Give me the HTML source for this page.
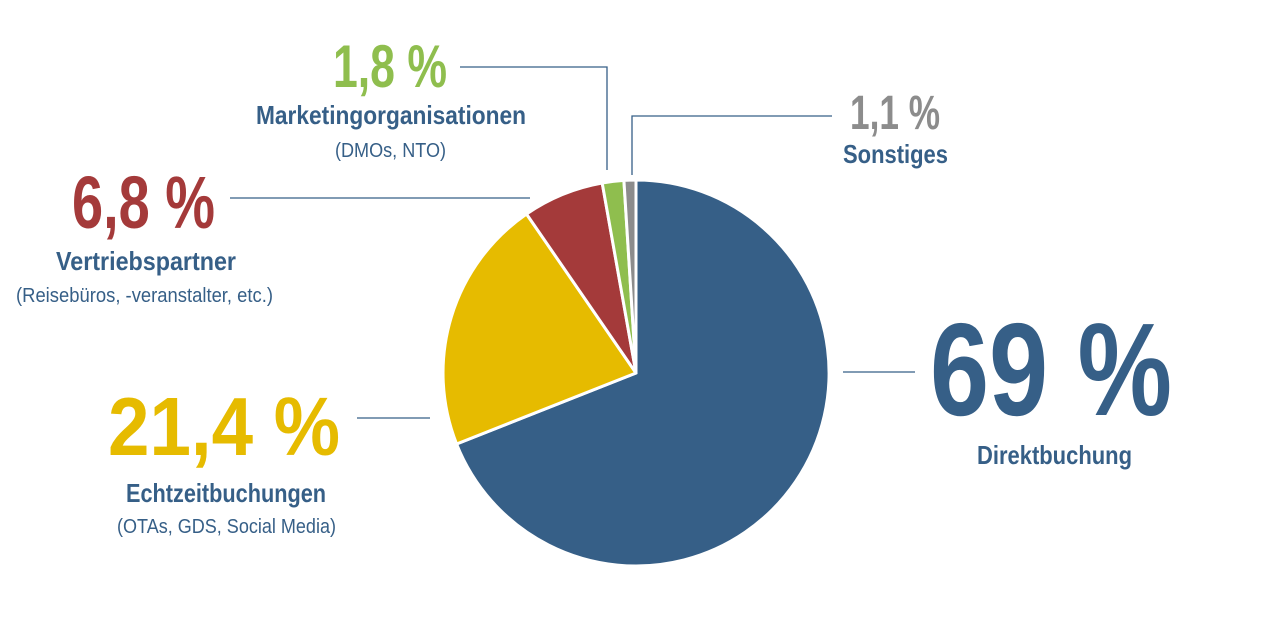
<!DOCTYPE html>
<html><head><meta charset="utf-8"><style>html,body{margin:0;padding:0;background:#fff;}svg{display:block}</style></head>
<body>
<svg width="1280" height="625" viewBox="0 0 1280 625" xmlns="http://www.w3.org/2000/svg" font-family="Liberation Sans, Arial, sans-serif">
<g stroke="#fff" stroke-width="3" stroke-linejoin="round">
<path d="M636,373 L636,180 A193,193 0 1 1 456.6,444 Z" fill="#365f87"/>
<path d="M636,373 L456.6,444 A193,193 0 0 1 526.5,214 Z" fill="#e6bb00"/>
<path d="M636,373 L526.5,214 A193,193 0 0 1 602.2,183 Z" fill="#a43a3a"/>
<path d="M636,373 L602.2,183 A193,193 0 0 1 623.9,180.4 Z" fill="#8fbe4e"/>
<path d="M636,373 L623.9,180.4 A193,193 0 0 1 636,180 Z" fill="#8c8c8c"/>
</g>
<g stroke="#365f87" stroke-width="1.3" fill="none">
<line x1="843" y1="372" x2="915" y2="372"/>
<line x1="357" y1="418" x2="430" y2="418"/>
<line x1="230" y1="198" x2="530" y2="198"/>
<polyline points="460,67 607,67 607,170"/>
<polyline points="832,116 632,116 632,175"/>
</g>
<g font-weight="bold" lengthAdjust="spacingAndGlyphs">
<text x="930" y="415" font-size="132" fill="#365f87" textLength="242" lengthAdjust="spacingAndGlyphs">69 %</text>
<text x="108" y="455" font-size="83" fill="#e6bb00" textLength="232" lengthAdjust="spacingAndGlyphs">21,4 %</text>
<text x="72" y="228" font-size="74" fill="#a43a3a" textLength="143" lengthAdjust="spacingAndGlyphs">6,8 %</text>
<text x="333" y="87" font-size="60" fill="#8fbe4e" textLength="114" lengthAdjust="spacingAndGlyphs">1,8 %</text>
<text x="850" y="129" font-size="48" fill="#8c8c8c" textLength="90" lengthAdjust="spacingAndGlyphs">1,1 %</text>
<text x="977" y="464" font-size="26" fill="#365f87" textLength="155" lengthAdjust="spacingAndGlyphs">Direktbuchung</text>
<text x="126" y="502" font-size="26" fill="#365f87" textLength="200" lengthAdjust="spacingAndGlyphs">Echtzeitbuchungen</text>
<text x="56" y="270" font-size="26" fill="#365f87" textLength="180" lengthAdjust="spacingAndGlyphs">Vertriebspartner</text>
<text x="256" y="124" font-size="26" fill="#365f87" textLength="270" lengthAdjust="spacingAndGlyphs">Marketingorganisationen</text>
<text x="843" y="163" font-size="26" fill="#365f87" textLength="105" lengthAdjust="spacingAndGlyphs">Sonstiges</text>
</g>
<g fill="#365f87" font-size="20">
<text x="117" y="533" textLength="219" lengthAdjust="spacingAndGlyphs">(OTAs, GDS, Social Media)</text>
<text x="16" y="302" textLength="257" lengthAdjust="spacingAndGlyphs">(Reisebüros, -veranstalter, etc.)</text>
<text x="335" y="157" textLength="111" lengthAdjust="spacingAndGlyphs">(DMOs, NTO)</text>
</g>
</svg>
</body></html>
